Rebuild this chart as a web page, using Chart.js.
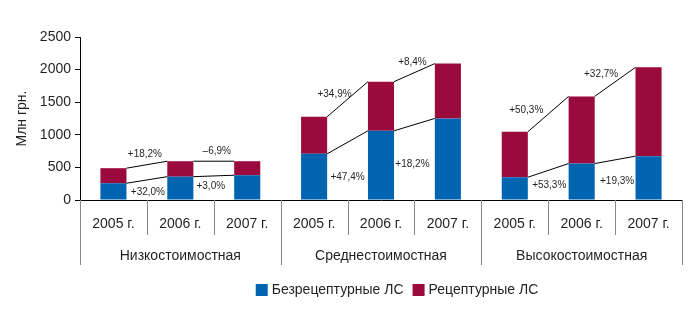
<!DOCTYPE html>
<html>
<head>
<meta charset="utf-8">
<script src="https://cdn.jsdelivr.net/npm/chart.js@4"></script>
<style>
  html, body { margin: 0; padding: 0; background: #fff; }
  #wrap { width: 700px; height: 327px; position: relative; }
</style>
</head>
<body>
<div id="wrap"><canvas id="myChart" width="700" height="327"></canvas></div>
<script>
// Values in Млн грн.
const groups = ['Низкостоимостная', 'Среднестоимостная', 'Высокостоимостная']
const years = ['2005 г.', '2006 г.', '2007 г.']
const labels = [...years, ...years, ...years]

const otcValues = [257, 358, 380, 708, 1061, 1251, 349, 559, 672]
const rxValues = [231, 237, 215, 569, 754, 841, 697, 1030, 1363]

const seriesNames = ['Безрецептурные ЛС', 'Рецептурные ЛС']
const yTicks = [0, 500, 1000, 1500, 2000, 2500]

// growth labels between the years, upper = total, lower = otc
const upperLabels = ['+18,2%', '–6,9%', '+34,9%', '+8,4%', '+50,3%', '+32,7%']
const lowerLabels = ['+32,0%', '+3,0%', '+47,4%', '+18,2%', '+53,3%', '+19,3%']

// where each growth label sits, relative to the middle of its line
const upperOffsets = [[-2, -10], [3, -10], [-13, -5], [-2, -10], [-22, -4], [-14, -8]]
const lowerOffsets = [[1, 12], [-3, 10], [0, 35], [-2, 40], [1, 15], [2, 21]]

const blue = '#0064b1'
const red = '#9b0a3d'
const textColor = '#231f20'
const font = 'Liberation Sans, Arial, sans-serif'

const overlay = {
  id: 'overlay',
  afterDatasetsDraw(chart) {
    const ctx = chart.ctx
    const otcBars = chart.getDatasetMeta(0).data
    const rxBars = chart.getDatasetMeta(1).data
    ctx.save()
    ctx.strokeStyle = '#000'
    ctx.lineWidth = 1
    ctx.fillStyle = textColor
    ctx.font = '10px ' + font
    ctx.textAlign = 'center'
    ctx.textBaseline = 'middle'
    let k = 0
    for (let g = 0; g < 3; g++) {
      for (let i = 0; i < 2; i++) {
        const a = g * 3 + i
        const b = a + 1
        const x1 = otcBars[a].x + otcBars[a].width / 2
        const x2 = otcBars[b].x - otcBars[b].width / 2
        const pairs = [
          [rxBars[a].y, rxBars[b].y, upperLabels[k], upperOffsets[k]],
          [otcBars[a].y, otcBars[b].y, lowerLabels[k], lowerOffsets[k]],
        ]
        pairs.forEach(([y1, y2, txt, off]) => {
          ctx.beginPath()
          ctx.moveTo(x1, y1)
          ctx.lineTo(x2, y2)
          ctx.stroke()
          ctx.fillText(txt, (x1 + x2) / 2 + off[0], (y1 + y2) / 2 + off[1])
        })
        k++
      }
    }
    ctx.restore()
  },
  afterDraw(chart) {
    const ctx = chart.ctx
    const xs = chart.scales.x
    const area = chart.chartArea
    const step = (xs.right - xs.left) / labels.length
    ctx.save()
    ctx.strokeStyle = '#888'
    ctx.lineWidth = 1
    // separators under the axis
    for (let i = 0; i <= labels.length; i++) {
      const px = Math.round(xs.left + step * i) + 0.5
      const len = i % 3 === 0 ? 65 : 35
      ctx.beginPath()
      ctx.moveTo(px, area.bottom)
      ctx.lineTo(px, area.bottom + len)
      ctx.stroke()
    }
    // group names
    ctx.fillStyle = textColor
    ctx.font = '14px ' + font
    ctx.textAlign = 'center'
    ctx.textBaseline = 'middle'
    groups.forEach((name, g) => {
      ctx.fillText(name, xs.getPixelForValue(g * 3 + 1), area.bottom + 56)
    })
    // legend
    const colors = [blue, red]
    const box = 12
    const gap = 4
    const between = 9
    const widths = seriesNames.map((s) => ctx.measureText(s).width)
    const total = widths.reduce((s, w) => s + box + gap + w, 0) + between
    let lx = 397 - total / 2
    const ly = 290
    ctx.textAlign = 'left'
    seriesNames.forEach((s, i) => {
      ctx.fillStyle = colors[i]
      ctx.fillRect(lx, ly - box / 2, box, box)
      ctx.fillStyle = textColor
      ctx.fillText(s, lx + box + gap, ly)
      lx += box + gap + widths[i] + between
    })
    ctx.restore()
  },
}

const ctx = document.getElementById('myChart').getContext('2d')

const chart = new Chart(ctx, {
  type: 'bar',
  data: {
    labels: labels,
    datasets: [
      {
        label: seriesNames[0],
        data: otcValues,
        backgroundColor: blue,
        barPercentage: 0.39,
        categoryPercentage: 1,
      },
      {
        label: seriesNames[1],
        data: rxValues,
        backgroundColor: red,
        barPercentage: 0.39,
        categoryPercentage: 1,
      },
    ],
  },
  options: {
    responsive: false,
    animation: false,
    layout: { padding: { top: 37, right: 18, left: 0, bottom: 0 } },
    plugins: {
      legend: { display: false },
      tooltip: { enabled: false },
    },
    scales: {
      x: {
        stacked: true,
        grid: { display: false },
        border: { display: true, color: '#000' },
        ticks: {
          color: textColor,
          font: { family: font, size: 14 },
          padding: 8,
          maxRotation: 0,
        },
        afterFit: (scale) => {
          scale.height = 127
        },
      },
      y: {
        stacked: true,
        min: 0,
        max: 2500,
        afterBuildTicks: (scale) => {
          scale.ticks = yTicks.map((v) => ({ value: v }))
        },
        grid: { drawOnChartArea: false, tickLength: 5, color: '#000' },
        border: { display: true, color: '#000' },
        ticks: {
          color: textColor,
          font: { family: font, size: 14 },
          padding: 4,
          callback: (v) => String(v),
        },
        title: {
          display: true,
          text: 'Млн грн.',
          color: textColor,
          font: { family: font, size: 14 },
          padding: { top: 14, bottom: 0 },
        },
        afterFit: (scale) => {
          scale.width = 80
        },
      },
    },
  },
  plugins: [overlay],
})
</script>
</body>
</html>
